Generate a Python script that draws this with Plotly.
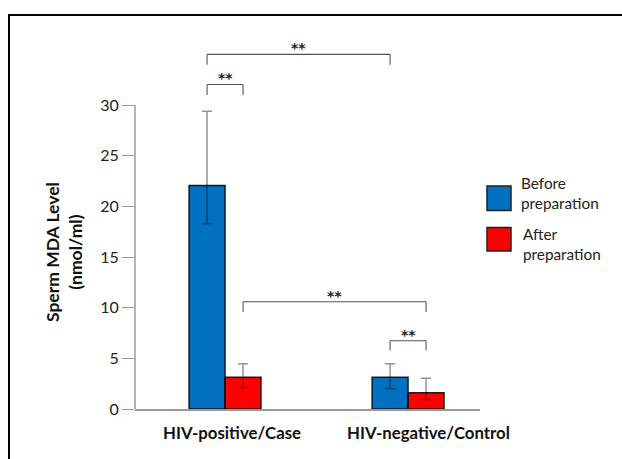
import plotly.graph_objects as go

# ---- data ----
groups = ["HIV-positive/Case", "HIV-negative/Control"]
series_names = ["Before<br>preparation", "After<br>preparation"]
before = [22.06, 3.14]
before_err_plus = [7.33, 1.32]
before_err_minus = [3.78, 1.12]
after = [3.14, 1.60]
after_err_plus = [1.32, 1.44]
after_err_minus = [1.05, 0.66]
y_ticks = [0, 5, 10, 15, 20, 25, 30]
y_title = "Sperm MDA Level<br>(nmol/ml)"
sig_label = "**"

BLUE = "#0070C0"
RED = "#FF0000"
FONT = "Lato"

W, H = 622, 459
ML, MR, MT, MB = 135, 142, 40, 50
PW, PH = W - ML - MR, H - MT - MB
XR = [-0.492, 1.393]
YR = [0, PH / 10.133]


def px2x(px):
    return (px - ML) / PW


def py2y(py):
    return (H - MB - py) / PH


bar_line = dict(color="rgba(0,0,0,0.85)", width=1.5)
err_style = dict(color="rgba(0,0,0,0.42)", thickness=1.5, width=5)

fig = go.Figure()
fig.add_trace(go.Bar(
    x=groups, y=before, name="Before preparation", marker=dict(color=BLUE, line=bar_line),
    error_y=dict(type="data", symmetric=False, array=before_err_plus,
                 arrayminus=before_err_minus, **err_style)))
fig.add_trace(go.Bar(
    x=groups, y=after, name="After preparation", marker=dict(color=RED, line=bar_line),
    error_y=dict(type="data", symmetric=False, array=after_err_plus,
                 arrayminus=after_err_minus, **err_style)))

bargap = 0.607
half = (1 - bargap) / 4  # offset of each bar centre from group centre
blue_c = [i - half for i in range(len(groups))]
red_c = [i + half for i in range(len(groups))]

shapes = []
annotations = []

# y axis line (0..30 only)
shapes.append(dict(type="line", xref="x domain", yref="y", x0=0, x1=0, y0=0, y1=max(y_ticks),
                   line=dict(color="#9a9a9a", width=1.5)))


def bracket(x0, x1, y, drop):
    col = dict(color="#555555", width=1.1)
    shapes.append(dict(type="line", xref="x", yref="y", x0=x0, x1=x1, y0=y, y1=y, line=col))
    shapes.append(dict(type="line", xref="x", yref="y", x0=x0, x1=x0, y0=y, y1=y - drop, line=col))
    shapes.append(dict(type="line", xref="x", yref="y", x0=x1, x1=x1, y0=y, y1=y - drop, line=col))
    annotations.append(dict(x=(x0 + x1) / 2, y=y, xref="x", yref="y", text="<b>%s</b>" % sig_label,
                            showarrow=False, yanchor="middle", yshift=6,
                            font=dict(family="DejaVu Sans", size=14, color="#222")))


bracket(blue_c[0], blue_c[1], 35.0, 1.03)
bracket(blue_c[0], red_c[0], 32.03, 1.03)
bracket(red_c[0], red_c[1], 10.58, 1.0)
bracket(blue_c[1], red_c[1], 6.73, 0.96)

# category labels
for i, (g, dx) in enumerate(zip(groups, [0.04, 1.11])):
    annotations.append(dict(x=dx, y=py2y(433), xref="x", yref="paper", text="<b>%s</b>" % g,
                            showarrow=False, yanchor="middle", xanchor="center",
                            font=dict(family=FONT, size=16.8, color="#111")))

# y title
annotations.append(dict(x=px2x(64), y=py2y(252), xref="paper", yref="paper",
                        text="<b>%s</b>" % y_title, textangle=-90, showarrow=False,
                        xanchor="center", yanchor="middle",
                        font=dict(family=FONT, size=17.5, color="#111")))

# custom legend
leg = [(BLUE, 186, 210.5, 519, 192.7), (RED, 227.5, 251, 521, 244)]
for (col, top, bot, tx, ty), nm in zip(leg, series_names):
    shapes.append(dict(type="rect", xref="paper", yref="paper",
                       x0=px2x(487), x1=px2x(511), y0=py2y(bot), y1=py2y(top),
                       fillcolor=col, line=dict(color="#222", width=1.5)))
    annotations.append(dict(x=px2x(tx), y=py2y(ty), xref="paper", yref="paper", text=nm,
                            showarrow=False, xanchor="left", yanchor="middle", align="left",
                            font=dict(family=FONT, size=15.3, color="#222")))

# outer frame
shapes.append(dict(type="rect", xref="paper", yref="paper",
                   x0=px2x(9), x1=px2x(640), y0=py2y(480), y1=py2y(15),
                   line=dict(color="black", width=2), fillcolor="rgba(0,0,0,0)", layer="above"))

fig.update_layout(
    width=W, height=H, margin=dict(l=ML, r=MR, t=MT, b=MB),
    paper_bgcolor="white", plot_bgcolor="white",
    barmode="group", bargap=bargap, bargroupgap=0,
    showlegend=False,
    shapes=shapes, annotations=annotations,
    xaxis=dict(range=XR, showticklabels=False, ticks="", showgrid=False, zeroline=False,
               showline=True, linecolor="#9a9a9a", linewidth=1.5),
    yaxis=dict(range=YR, tickvals=y_ticks, ticks="outside", ticklen=12, tickcolor="#9a9a9a",
               tickwidth=1, showgrid=False, zeroline=False, showline=False,
               tickfont=dict(family=FONT, size=16, color="#222")),
)

fig.write_html("out.html", config={"displayModeBar": False},
               post_script="document.body.style.margin='0';")
